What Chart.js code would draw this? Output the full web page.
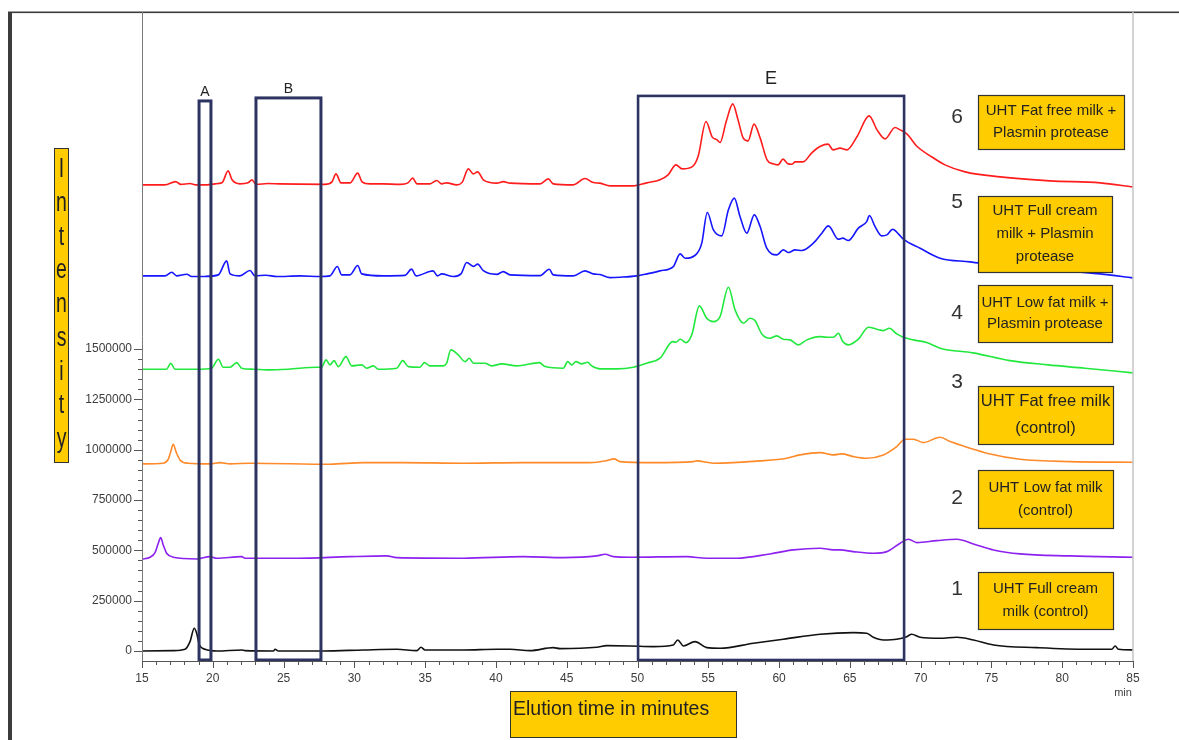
<!DOCTYPE html>
<html lang="en">
<head>
<meta charset="utf-8">
<title>UHT milk chromatograms</title>
<script src="https://cdn.jsdelivr.net/npm/chart.js"></script>
<style>
  html, body { margin: 0; padding: 0; background: #fff; }
</style>
</head>
<body>
<canvas id="chromChart" width="1179" height="740"></canvas>
<script>
// elution time (min) and intensity for each trace, bottom (1) to top (6)
const trace1Time = [15.0, 17.21, 18.04, 18.39, 18.69, 18.86, 19.05, 19.45, 20.28, 22.04, 22.28, 24.28, 24.40, 24.63, 27.81, 30.63, 33.00, 34.41, 34.71, 34.99, 37.70, 40.06, 41.00, 42.41, 44.05, 44.53, 47.12, 47.83, 49.47, 51.12, 52.53, 52.84, 53.24, 54.06, 54.89, 55.83, 58.19, 60.30, 62.90, 65.25, 66.19, 66.66, 67.37, 68.31, 69.02, 69.37, 69.96, 71.37, 72.55, 73.73, 75.15, 78.21, 81.74, 83.50, 83.74, 83.97, 85.0]
const trace1 = [0, 1500, 8400, 46200, 112800, 88000, 29800, 8400, 0, 5000, 1500, 0, 8400, 0, 0, 5000, 8400, 1500, 18400, 5000, 5000, 8400, 8400, 1500, 16400, 11400, 18400, 26300, 24900, 21400, 29800, 54700, 24900, 46200, 16400, 13400, 38300, 58100, 83000, 91000, 88000, 68100, 54700, 58100, 71100, 83000, 68100, 63100, 68100, 54700, 29800, 16400, 8400, 8400, 24900, 8400, 5000]

const trace2Time = [15.0, 15.57, 15.92, 16.15, 16.32, 16.50, 16.74, 17.21, 18.86, 19.80, 20.28, 22.04, 22.28, 25.93, 29.69, 32.29, 32.99, 37.70, 41.94, 44.76, 47.12, 47.71, 48.30, 49.47, 53.48, 54.89, 57.01, 59.36, 61.01, 62.90, 63.84, 64.31, 65.25, 66.67, 67.61, 68.55, 69.14, 69.73, 71.14, 72.56, 73.73, 75.15, 77.02, 80.55, 85.0]
const trace2 = [455700, 465700, 488600, 535300, 563100, 526800, 485600, 465700, 457200, 468700, 460700, 468700, 460700, 460700, 468700, 472200, 463700, 460700, 468700, 463700, 472200, 480600, 468700, 465700, 468700, 460700, 460700, 482100, 502000, 510400, 502000, 502000, 493500, 485600, 493500, 535300, 555100, 538300, 548200, 555100, 531800, 502000, 482100, 472200, 465700]

const trace3Time = [15.0, 16.50, 16.86, 17.03, 17.21, 17.40, 17.68, 18.27, 19.80, 20.51, 21.22, 22.63, 28.28, 30.63, 33.46, 37.70, 41.94, 46.65, 47.83, 48.34, 48.77, 51.12, 53.95, 54.18, 55.36, 58.66, 60.54, 61.48, 62.90, 63.84, 64.43, 65.25, 66.19, 67.37, 68.31, 68.90, 69.49, 70.19, 71.37, 72.08, 73.49, 74.67, 77.02, 80.55, 85.0]
const trace3 = [929400, 932900, 952700, 990500, 1027300, 990500, 949300, 932900, 929400, 935900, 929400, 932900, 927900, 935900, 935900, 932900, 935900, 935900, 945800, 954200, 940800, 935900, 940800, 944300, 932900, 944300, 957700, 974100, 985600, 974100, 979100, 965700, 957700, 974100, 1015400, 1052100, 1052100, 1035300, 1062100, 1040200, 1007400, 982600, 952700, 940800, 937800]

const trace4Time = [15.0, 16.74, 17.03, 17.33, 18.86, 19.92, 20.39, 20.74, 21.22, 21.69,
  22.04, 22.86, 23.81, 25.33, 27.34, 27.69, 28.00, 28.28, 28.56, 28.87,
  29.41, 29.81, 30.52, 30.87, 31.34, 31.69, 32.99, 33.42, 33.81, 34.64,
  34.94, 35.34, 36.28, 36.52, 36.81, 37.34, 37.82, 38.12, 38.40, 39.23,
  39.70, 40.41, 41.47, 43.07, 43.47, 44.76, 45.07, 45.35, 45.66, 46.06,
  46.48, 46.77, 47.35, 48.53, 49.71, 50.65, 51.59, 52.49, 52.72, 53.01,
  53.43, 53.83, 54.37, 54.89, 55.36, 55.83, 56.42, 56.89, 57.48, 57.95,
  58.30, 58.78, 59.36, 59.84, 60.30, 60.78, 61.36, 61.96, 62.89, 63.37,
  63.84, 64.19, 64.50, 64.89, 65.60, 66.31, 66.90, 67.37, 67.79, 68.31,
  68.78, 69.49, 70.43, 71.37, 73.70, 76.31, 79.00, 81.61, 85.0]
const trace4 = [1400000, 1400000, 1429900, 1400000, 1400000, 1405000, 1449700, 1410000, 1410000, 1432900,
  1405000, 1400000, 1396600, 1400000, 1410000, 1410000, 1446300, 1421400, 1442800, 1413000,
  1462700, 1416500, 1421400, 1405000, 1416500, 1400000, 1405000, 1442800, 1413000, 1410000,
  1432900, 1416500, 1416500, 1429900, 1496000, 1471100, 1437800, 1454700, 1429900, 1429900,
  1416500, 1426400, 1416500, 1432900, 1413000, 1405000, 1437800, 1421400, 1437800, 1426400,
  1434800, 1416500, 1401500, 1401500, 1410000, 1429900, 1454700, 1537200, 1534200, 1549100,
  1532300, 1570500, 1714700, 1653500, 1636600, 1661500, 1807600, 1694800, 1628700, 1653500,
  1641600, 1575500, 1554100, 1565600, 1549100, 1545700, 1520800, 1545700, 1562100, 1559100,
  1559100, 1578900, 1537200, 1520800, 1549100, 1608800, 1598800, 1591900, 1603800, 1575500,
  1559100, 1545700, 1532300, 1504400, 1481100, 1442800, 1421400, 1405000, 1381700]

const trace5Time = [15.0, 16.62, 17.10, 17.45, 18.16, 18.51, 19.45, 20.39, 20.98, 21.22,
  21.92, 22.63, 22.98, 23.76, 24.52, 26.16, 27.57, 28.28, 28.80, 29.11,
  29.69, 30.24, 30.52, 32.05, 33.58, 34.04, 34.36, 35.56, 35.87, 36.17,
  36.99, 37.53, 37.94, 38.40, 38.71, 39.11, 40.06, 40.52, 41.00, 43.12,
  43.77, 44.05, 45.47, 46.29, 46.88, 47.35, 48.06, 48.77, 49.95, 50.67,
  51.59, 52.53, 53.01, 53.36, 54.18, 54.54, 54.93, 55.36, 55.95, 56.42,
  56.84, 57.24, 57.72, 58.25, 58.66, 59.13, 59.84, 60.30, 60.66, 61.13,
  61.60, 62.42, 63.02, 63.48, 64.19, 64.50, 64.89, 65.60, 66.19, 66.38,
  66.78, 67.25, 67.61, 68.03, 68.43, 68.78, 69.96, 71.37, 73.49, 75.61,
  79.14, 82.68, 85.0]
const trace5 = [1863800, 1863800, 1882100, 1863800, 1872200, 1860300, 1861000, 1868700, 1938300, 1873700,
  1863800, 1890100, 1863800, 1867200, 1860300, 1863800, 1860300, 1863800, 1910000, 1868700,
  1868700, 1915000, 1873700, 1863800, 1866200, 1897500, 1863800, 1888600, 1863800, 1873700,
  1860300, 1873700, 1929900, 1911000, 1921900, 1889600, 1871200, 1885100, 1868700, 1865200,
  1897000, 1868700, 1863800, 1888600, 1873700, 1870300, 1855300, 1857200, 1863800, 1873700,
  1888600, 1910000, 1973100, 1951700, 1973100, 2026300, 2178400, 2092400, 2062600, 2191800,
  2249900, 2158500, 2076000, 2166900, 2108800, 2001400, 1968100, 1993000, 1979600, 1993000,
  1989500, 2026300, 2076000, 2112300, 2046100, 2051100, 2039200, 2100800, 2133600, 2163400,
  2108800, 2062600, 2067500, 2095800, 2072500, 2046100, 2001400, 1951700, 1933300, 1913500,
  1893600, 1873700, 1853800]

const trace6Time = [15.0, 16.62, 17.37, 17.75, 18.39, 18.81, 19.45, 20.16, 20.65, 21.08,
  21.36, 21.92, 22.49, 22.77, 23.05, 23.90, 24.68, 26.09, 27.93, 28.42,
  28.70, 29.06, 29.69, 30.24, 30.54, 31.11, 32.02, 33.23, 33.79, 34.12,
  34.43, 35.34, 35.82, 36.17, 36.52, 37.23, 37.61, 38.05, 38.40, 38.71,
  39.11, 40.06, 40.52, 41.00, 43.12, 43.70, 44.05, 45.47, 46.29, 46.88,
  47.35, 48.06, 49.68, 50.65, 51.59, 52.16, 52.72, 53.15, 53.85, 54.28,
  54.84, 55.27, 55.62, 55.83, 56.26, 56.73, 57.10, 57.46, 57.81, 58.23,
  58.66, 59.15, 59.57, 59.93, 60.28, 60.63, 60.92, 61.13, 61.69, 62.33,
  62.89, 63.46, 63.81, 64.31, 64.80, 65.51, 66.36, 66.92, 67.49, 68.19,
  68.55, 69.04, 69.75, 70.67, 71.72, 73.14, 75.61, 79.14, 82.68, 85.0]
const trace6 = [2316000, 2316000, 2332000, 2318500, 2322500, 2316000, 2316000, 2321000, 2326000, 2385600,
  2341000, 2321000, 2326000, 2341000, 2318500, 2322500, 2321000, 2319500, 2318500, 2331000,
  2370700, 2326000, 2326000, 2374200, 2331000, 2321000, 2321000, 2318500, 2326000, 2349300,
  2321000, 2321000, 2337400, 2321000, 2326000, 2316000, 2328400, 2395500, 2370700, 2380600,
  2341000, 2324500, 2332000, 2324500, 2321000, 2345800, 2321000, 2316000, 2347300, 2327500,
  2324500, 2311000, 2311000, 2326000, 2341000, 2365700, 2415400, 2395500, 2405500, 2456700,
  2630600, 2554600, 2539700, 2526300, 2629100, 2718600, 2639100, 2549600, 2534700, 2617700,
  2549600, 2440300, 2420400, 2415400, 2443700, 2420400, 2418800, 2430300, 2430300, 2476600,
  2506400, 2518300, 2490000, 2498400, 2490000, 2556100, 2659000, 2589400, 2544600, 2600800,
  2589400, 2568000, 2506400, 2460200, 2415400, 2380600, 2355800, 2335900, 2326000, 2306100]

const xTicks = [15, 20, 25, 30, 35, 40, 45, 50, 55, 60, 65, 70, 75, 80, 85]
const yTicks = [0, 250000, 500000, 750000, 1000000, 1250000, 1500000]

// marked regions (A, B, E)
const regionNames = ['A', 'B', 'E']
const regionStart = [19.03, 23.05, 50.04]
const regionEnd = [19.87, 27.64, 68.83]
const regionTop = [2733000, 2748000, 2758000]
const regionBottom = -45000

const sampleNumbers = ['1', '2', '3', '4', '5', '6']
const sampleNames = [
  ['UHT Full cream', 'milk (control)'],
  ['UHT Low fat milk', '(control)'],
  ['UHT Fat free milk', '(control)'],
  ['UHT Low fat milk +', 'Plasmin protease'],
  ['UHT Full cream', 'milk + Plasmin', 'protease'],
  ['UHT Fat free milk +', 'Plasmin protease']
]

const FONT = '"Liberation Sans", Arial, sans-serif'
const lineColors = ['#111111', '#8d22f0', '#ff8a2a', '#22e83e', '#1616ff', '#ff1c1c']

// pixel layout of the tag boxes on the right
const tagLayout = [
  { x: 978, y: 572, w: 135, h: 57, size: 15, lh: 23, numY: 589 },
  { x: 978, y: 470, w: 135, h: 58, size: 15, lh: 23, numY: 498 },
  { x: 978, y: 386, w: 135, h: 58, size: 16.5, lh: 26.5, numY: 382 },
  { x: 978, y: 285, w: 134, h: 57, size: 15, lh: 21.5, numY: 313 },
  { x: 978, y: 196, w: 134, h: 76, size: 15, lh: 23, numY: 202 },
  { x: 978, y: 95, w: 146, h: 54, size: 15, lh: 22, numY: 117 }
]

function pts(ts, vs) {
  return ts.map((t, i) => ({ x: t, y: vs[i] }))
}

const traces = [
  pts(trace1Time, trace1), pts(trace2Time, trace2), pts(trace3Time, trace3),
  pts(trace4Time, trace4), pts(trace5Time, trace5), pts(trace6Time, trace6)
]

const decor = {
  id: 'decor',
  afterDatasetsDraw(chart) {
    const { ctx, scales: { x, y } } = chart
    ctx.save()
    ctx.strokeStyle = '#2e3462'
    ctx.fillStyle = '#222'
    ctx.textAlign = 'center'
    ctx.textBaseline = 'alphabetic'
    regionNames.forEach((name, i) => {
      const l = x.getPixelForValue(regionStart[i])
      const r = x.getPixelForValue(regionEnd[i])
      const t = y.getPixelForValue(regionTop[i])
      const b = y.getPixelForValue(regionBottom)
      ctx.lineWidth = name === 'E' ? 2.6 : 3
      ctx.strokeRect(l, t, r - l, b - t)
      ctx.font = (name === 'E' ? '18px ' : '14px ') + FONT
      ctx.fillText(name, (l + r) / 2, t - (name === 'E' ? 12 : 5))
    })
    ctx.restore()
  },
  afterDraw(chart) {
    const { ctx, chartArea: a, scales: { x, y } } = chart
    ctx.save()
    // page frame
    ctx.fillStyle = '#3c3c3c'
    ctx.fillRect(8, 12, 4, 728)
    ctx.fillRect(8, 11.5, 1171, 1.6)
    // plot borders
    ctx.lineWidth = 1
    ctx.strokeStyle = '#7a7a7a'
    ctx.beginPath(); ctx.moveTo(a.left + 0.5, a.top); ctx.lineTo(a.left + 0.5, a.bottom); ctx.stroke()
    ctx.strokeStyle = '#c4c4c4'
    ctx.lineWidth = 1.5
    ctx.beginPath(); ctx.moveTo(a.right, a.top); ctx.lineTo(a.right, a.bottom); ctx.stroke()
    ctx.strokeStyle = '#555'
    ctx.lineWidth = 1
    ctx.beginPath(); ctx.moveTo(a.left, a.bottom + 0.5); ctx.lineTo(a.right, a.bottom + 0.5); ctx.stroke()
    // tick marks
    ctx.beginPath()
    for (let m = 15; m <= 85; m++) {
      const px = Math.round(x.getPixelForValue(m)) + 0.5
      ctx.moveTo(px, a.bottom)
      ctx.lineTo(px, a.bottom + (m % 5 === 0 ? 7 : 4))
    }
    for (let v = 0; v <= 1500000; v += 50000) {
      const py = Math.round(y.getPixelForValue(v)) + 0.5
      ctx.moveTo(a.left, py)
      ctx.lineTo(a.left - (v % 250000 === 0 ? 8 : 4), py)
    }
    ctx.stroke()
    ctx.fillStyle = '#444'
    ctx.font = '11px ' + FONT
    ctx.textAlign = 'center'
    ctx.textBaseline = 'middle'
    ctx.fillText('min', x.getPixelForValue(85) - 10, 693)

    // y title: stacked letters in a yellow strip
    ctx.fillStyle = '#ffcc00'
    ctx.fillRect(54, 148, 14, 314)
    ctx.strokeStyle = '#333'
    ctx.lineWidth = 1
    ctx.strokeRect(54.5, 148.5, 14, 314)
    ctx.fillStyle = '#222'
    ctx.font = '27px ' + FONT
    ctx.textBaseline = 'alphabetic'
    'Intensity'.split('').forEach((ch, i) => {
      ctx.save()
      ctx.translate(61.5, 177 + i * 33.75)
      ctx.scale(0.72, 1)
      ctx.fillText(ch, 0, 0)
      ctx.restore()
    })

    // x title box
    ctx.fillStyle = '#ffcc00'
    ctx.fillRect(510, 691, 226, 46)
    ctx.strokeRect(510.5, 691.5, 226, 46)
    ctx.fillStyle = '#222'
    ctx.font = '19.5px ' + FONT
    ctx.textAlign = 'left'
    ctx.textBaseline = 'middle'
    ctx.fillText('Elution time in minutes', 513, 710)

    // sample tags
    tagLayout.forEach((b, i) => {
      ctx.fillStyle = '#ffcc00'
      ctx.fillRect(b.x, b.y, b.w, b.h)
      ctx.strokeStyle = '#333'
      ctx.lineWidth = 1.2
      ctx.strokeRect(b.x + 0.5, b.y + 0.5, b.w, b.h)
      ctx.fillStyle = '#222'
      ctx.textAlign = 'center'
      ctx.textBaseline = 'middle'
      ctx.font = b.size + 'px ' + FONT
      const lines = sampleNames[i]
      const cy = b.y + b.h / 2
      lines.forEach((ln, j) => {
        ctx.fillText(ln, b.x + b.w / 2, cy + (j - (lines.length - 1) / 2) * b.lh)
      })
      ctx.fillStyle = '#333'
      ctx.font = '21px ' + FONT
      ctx.fillText(sampleNumbers[i], 957, b.numY)
    })
    ctx.restore()
  }
}

const config = {
  type: 'line',
  data: {
    datasets: traces.map((d, i) => ({
      label: 'Trace ' + sampleNumbers[i],
      data: d,
      borderColor: lineColors[i],
      backgroundColor: lineColors[i],
      borderWidth: 1.6,
      pointRadius: 0,
      fill: false,
      cubicInterpolationMode: 'monotone'
    }))
  },
  options: {
    responsive: false,
    animation: false,
    events: [],
    layout: { padding: { left: 0, right: 46, top: 12, bottom: 0 } },
    plugins: { legend: { display: false }, tooltip: { enabled: false } },
    scales: {
      x: {
        type: 'linear',
        min: 15,
        max: 85,
        afterFit: s => { s.height = 79 },
        afterBuildTicks: s => { s.ticks = xTicks.map(v => ({ value: v })) },
        grid: { display: false, drawTicks: true, tickLength: 7 },
        border: { display: false },
        ticks: { padding: 3, maxRotation: 0, autoSkip: false, color: '#3c3c3c', font: { family: FONT, size: 12 } }
      },
      y: {
        type: 'linear',
        min: -50000,
        max: 3175000,
        afterFit: s => { s.width = 142 },
        afterBuildTicks: s => { s.ticks = yTicks.map(v => ({ value: v })) },
        grid: { display: false, drawTicks: true, tickLength: 8 },
        border: { display: false },
        ticks: { padding: 2, autoSkip: false, color: '#3c3c3c', font: { family: FONT, size: 12 }, callback: v => String(v) }
      }
    }
  },
  plugins: [decor]
}

const chromChart = new Chart(document.getElementById('chromChart'), config)
</script>
</body>
</html>
